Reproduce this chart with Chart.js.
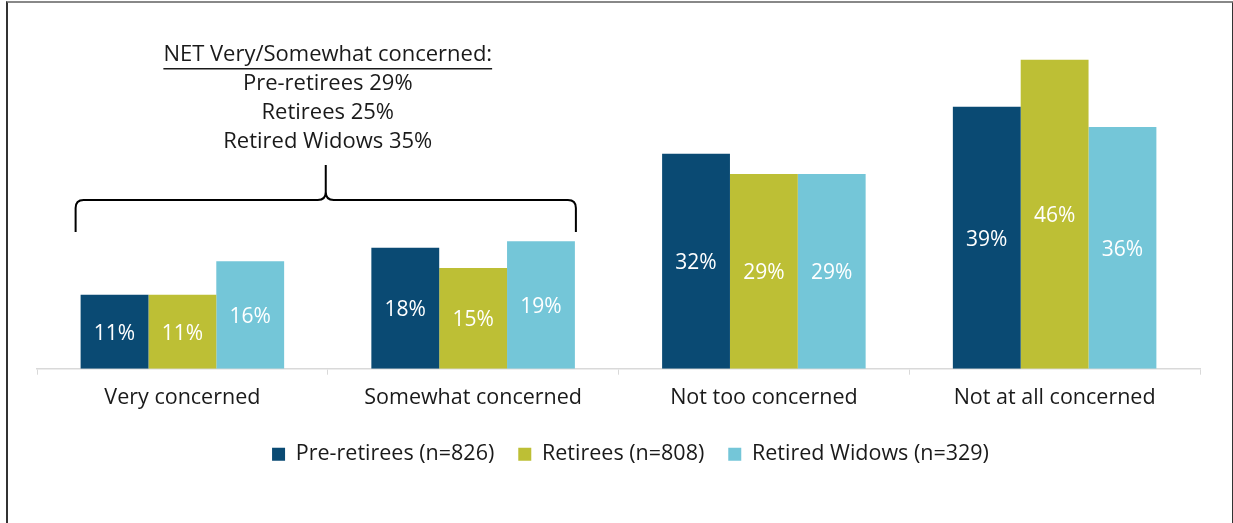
<!DOCTYPE html>
<html>
<head>
<meta charset="utf-8">
<script src="https://cdn.jsdelivr.net/npm/chart.js@4.4.1/dist/chart.umd.min.js"></script>
<style>
  html, body { margin: 0; padding: 0; background: #fff; }
  #frame {
    position: absolute; left: 6px; top: 1px; width: 1224px; height: 540px;
    border: 2px solid #333; border-top-color: #888;
  }
  #chart { position: absolute; left: 0; top: 0; }
</style>
</head>
<body>
<div id="frame"></div>
<canvas id="chart" width="1233" height="523"></canvas>
<script>
// categories and series
const categories = ['Very concerned', 'Somewhat concerned', 'Not too concerned', 'Not at all concerned'];
const preRetirees = [11, 18, 32, 39];
const retirees = [11, 15, 29, 46];
const retiredWidows = [16, 19, 29, 36];
const seriesNames = ['Pre-retirees (n=826)', 'Retirees (n=808)', 'Retired Widows (n=329)'];
const seriesColors = ['#0A4A73', '#BDBF35', '#74C6D8'];

// NET annotation text
const netTitle = 'NET Very/Somewhat concerned:';
const netLines = ['Pre-retirees 29%', 'Retirees 25%', 'Retired Widows 35%'];

const FONT = '"Open Sans", sans-serif';
const TEXT = '#1a1a1a';

// white % labels in the middle of each bar
const barLabels = {
  id: 'barLabels',
  afterDatasetsDraw(chart) {
    const ctx = chart.ctx;
    ctx.save();
    ctx.font = '21px ' + FONT;
    ctx.fillStyle = '#fff';
    ctx.textAlign = 'center';
    ctx.textBaseline = 'middle';
    chart.data.datasets.forEach((ds, i) => {
      chart.getDatasetMeta(i).data.forEach((bar, j) => {
        ctx.fillText(ds.data[j] + '%', bar.x, (bar.y + bar.base) / 2 + 2);
      });
    });
    ctx.restore();
  }
};

// nudge the legend a little right, as in the original
const legendShift = {
  id: 'legendShift',
  afterLayout(chart) {
    chart.legend.left += 12;
    chart.legend.right += 12;
  }
};

// curly brace over the first two categories plus the NET text
const netBrace = {
  id: 'netBrace',
  afterDraw(chart) {
    const ctx = chart.ctx;
    const first = chart.getDatasetMeta(0).data[0];
    const last = chart.getDatasetMeta(2).data[1];
    const x1 = first.x - first.width / 2 - 5;
    const x2 = last.x + last.width / 2 + 1;
    const cx = (x1 + x2) / 2;
    const yLine = 200, yEnd = 232, yTip = 165, r = 8;

    ctx.save();
    ctx.strokeStyle = '#000';
    ctx.lineWidth = 2;
    ctx.beginPath();
    ctx.moveTo(x1, yEnd);
    ctx.lineTo(x1, yLine + r);
    ctx.quadraticCurveTo(x1, yLine, x1 + r, yLine);
    ctx.lineTo(cx - r, yLine);
    ctx.quadraticCurveTo(cx, yLine, cx, yLine - r);
    ctx.lineTo(cx, yTip);
    ctx.moveTo(cx, yLine - r);
    ctx.quadraticCurveTo(cx, yLine, cx + r, yLine);
    ctx.lineTo(x2 - r, yLine);
    ctx.quadraticCurveTo(x2, yLine, x2, yLine + r);
    ctx.lineTo(x2, yEnd);
    ctx.stroke();

    ctx.font = '22px ' + FONT;
    ctx.fillStyle = TEXT;
    ctx.textAlign = 'center';
    ctx.textBaseline = 'middle';
    const tx = cx + 2;
    ctx.fillText(netTitle, tx, 55);
    const w = ctx.measureText(netTitle).width;
    ctx.fillRect(tx - w / 2, 68, w, 1.5);
    netLines.forEach((line, i) => ctx.fillText(line, tx, 84 + i * 29));
    ctx.restore();
  }
};

new Chart(document.getElementById('chart'), {
  type: 'bar',
  data: {
    labels: categories,
    datasets: [preRetirees, retirees, retiredWidows].map((d, i) => ({
      label: seriesNames[i],
      data: d,
      backgroundColor: seriesColors[i],
      borderWidth: 0,
      categoryPercentage: 0.7,
      barPercentage: 1
    }))
  },
  options: {
    responsive: false,
    animation: false,
    layout: { padding: { left: 37, right: 33, top: 33, bottom: 48 } },
    scales: {
      y: { display: false, min: 0, max: 50 },
      x: {
        afterFit(scale) { scale.height -= 1; },
        grid: { drawOnChartArea: false, drawTicks: true, tickLength: 6, color: '#d9d9d9', offset: true },
        border: { color: '#d9d9d9', width: 1.5 },
        ticks: { color: TEXT, font: { family: FONT, size: 21.5 }, padding: 10 }
      }
    },
    plugins: {
      tooltip: { enabled: false },
      legend: {
        position: 'bottom',
        labels: {
          color: TEXT,
          font: { family: FONT, size: 21.5 },
          boxWidth: 13,
          boxHeight: 13,
          padding: 24
        }
      }
    }
  },
  plugins: [barLabels, legendShift, netBrace]
});
</script>
</body>
</html>
